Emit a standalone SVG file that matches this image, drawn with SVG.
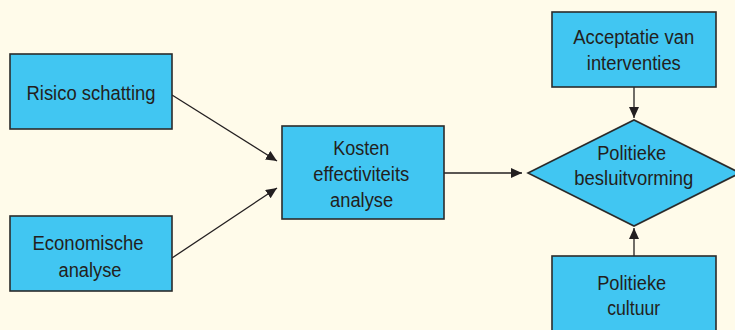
<svg xmlns="http://www.w3.org/2000/svg" width="735" height="330" viewBox="0 0 735 330">
  <style>
    .box { fill: #41c6f2; stroke: #2b2b2b; stroke-width: 1.6; }
    .lbl { font-family: "Liberation Sans", Arial, sans-serif; font-size: 20px; fill: #231f20; text-anchor: middle; }
    .edge { stroke: #231f20; stroke-width: 1.3; fill: none; marker-end: url(#head); }
  </style>
  <defs>
    <marker id="head" markerUnits="userSpaceOnUse" markerWidth="12" markerHeight="10" refX="11" refY="5" orient="auto">
      <path d="M0,0 L11,5 L0,10 Z" fill="#231f20"/>
    </marker>
  </defs>

  <rect width="735" height="330" fill="#fffbea"/>

  <g id="connectors">
    <line class="edge" x1="172" y1="95" x2="277" y2="161"/>
    <line class="edge" x1="172" y1="258" x2="277" y2="188"/>
    <line class="edge" x1="444" y1="173" x2="522" y2="173"/>
    <line class="edge" x1="634" y1="87" x2="634" y2="118"/>
    <line class="edge" x1="634" y1="256" x2="634" y2="228"/>
  </g>

  <g id="risico">
    <rect class="box" x="10" y="54" width="162" height="75"/>
    <text class="lbl" x="91" y="100" textLength="129" lengthAdjust="spacingAndGlyphs">Risico schatting</text>
  </g>

  <g id="economische">
    <rect class="box" x="10" y="216" width="162" height="75"/>
    <text class="lbl" x="88" y="250" textLength="111" lengthAdjust="spacingAndGlyphs">Economische</text>
    <text class="lbl" x="90" y="277" textLength="63" lengthAdjust="spacingAndGlyphs">analyse</text>
  </g>

  <g id="kosten">
    <rect class="box" x="282" y="126" width="162" height="93"/>
    <text class="lbl" x="361.3" y="155" textLength="56" lengthAdjust="spacingAndGlyphs">Kosten</text>
    <text class="lbl" x="361.3" y="181" textLength="96" lengthAdjust="spacingAndGlyphs">effectiviteits</text>
    <text class="lbl" x="361.6" y="207" textLength="63" lengthAdjust="spacingAndGlyphs">analyse</text>
  </g>

  <g id="acceptatie">
    <rect class="box" x="552" y="12" width="164" height="75"/>
    <text class="lbl" x="633.7" y="43.5" textLength="121" lengthAdjust="spacingAndGlyphs">Acceptatie van</text>
    <text class="lbl" x="633.8" y="70" textLength="94" lengthAdjust="spacingAndGlyphs">interventies</text>
  </g>

  <g id="besluitvorming">
    <polygon class="box" points="528,173 634,120 740,173 634,226"/>
    <text class="lbl" x="631.7" y="160" textLength="69" lengthAdjust="spacingAndGlyphs">Politieke</text>
    <text class="lbl" x="633.8" y="185" textLength="119" lengthAdjust="spacingAndGlyphs">besluitvorming</text>
  </g>

  <g id="cultuur">
    <rect class="box" x="552" y="256" width="164" height="90"/>
    <text class="lbl" x="631.7" y="290" textLength="69" lengthAdjust="spacingAndGlyphs">Politieke</text>
    <text class="lbl" x="633.7" y="315" textLength="53" lengthAdjust="spacingAndGlyphs">cultuur</text>
  </g>
</svg>
